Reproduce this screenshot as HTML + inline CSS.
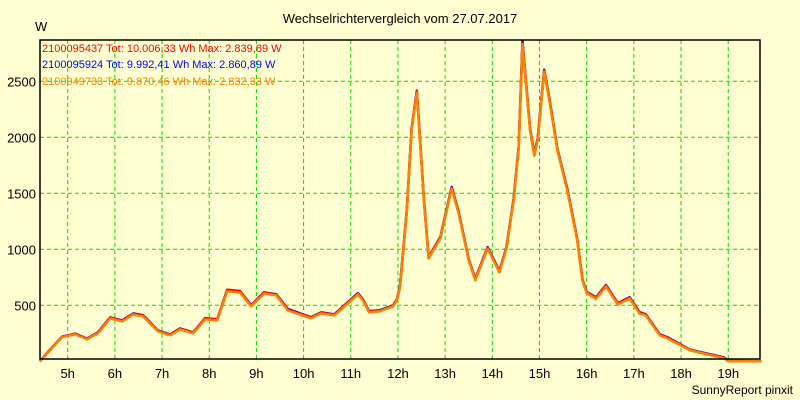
<!DOCTYPE html>
<html><head><meta charset="utf-8"><style>
body{margin:0;background:#ffffd2;}
svg{display:block;font-family:"Liberation Sans",sans-serif;}
</style></head><body>
<svg id="chart" width="800" height="400" xmlns="http://www.w3.org/2000/svg">
<rect width="800" height="400" fill="#ffffd2"/>
<text x="400" y="23" text-anchor="middle" font-size="13" fill="#000">Wechselrichtervergleich vom 27.07.2017</text>
<text x="35" y="31" font-size="13" fill="#000">W</text>
<g id="grid"></g>
<g id="series"></g>
<rect x="40" y="40" width="720" height="319" fill="none" stroke="#000" stroke-width="1.5"/>
<g id="labels"></g>
<g font-size="11">
<text x="42" y="52" fill="#ff0000">2100095437 Tot: 10.006,33 Wh Max: 2.839,89 W</text>
<text x="42" y="68" fill="#0000ff">2100095924 Tot: 9.992,41 Wh Max: 2.860,89 W</text>
<text x="42" y="85" fill="#ff8000">2100049733 Tot: 9.870,46 Wh Max: 2.832,33 W</text>
</g>
<text x="793" y="394" text-anchor="end" font-size="12" fill="#000">SunnyReport pinxit</text>
</svg>
<script>
const hours = [4.41,4.62,4.88,5.16,5.41,5.64,5.9,6.15,6.39,6.6,6.91,7.17,7.38,7.66,7.91,8.17,8.38,8.65,8.89,9.16,9.42,9.67,10.03,10.16,10.37,10.65,11.15,11.26,11.39,11.62,11.9,11.98,12.04,12.08,12.19,12.29,12.4,12.44,12.55,12.65,12.9,13.14,13.28,13.5,13.64,13.9,14.15,14.3,14.45,14.56,14.64,14.7,14.8,14.89,14.96,15.1,15.21,15.38,15.59,15.8,15.91,16.0,16.2,16.41,16.66,16.91,17.12,17.25,17.55,17.72,18.19,18.91,19.0,19.7];
const blueVals = [0,100,220,246,202,258,392,365,428,410,276,240,294,258,384,375,635,625,500,616,598,466,412,393,437,420,608,553,446,456,500,555,662,840,1360,2075,2415,2165,1450,930,1110,1556,1343,912,734,1020,806,1020,1450,1915,2861,2570,2076,1852,1985,2603,2345,1896,1540,1092,734,618,572,680,518,572,438,420,240,213,104,34,4,0];
const redVals = [0,98,218,244,200,255,390,362,425,407,273,237,291,255,383,372,638,628,496,613,595,460,408,390,434,417,604,550,443,452,496,552,658,836,1355,2070,2410,2160,1445,926,1105,1550,1338,908,730,1015,801,1015,1445,1909,2840,2560,2070,1846,1980,2597,2338,1890,1534,1087,730,614,568,676,514,568,434,417,237,210,101,31,2,0];
const orangeVals = [0,95,215,240,196,250,383,356,418,400,268,232,285,250,374,365,624,614,490,605,588,454,402,384,428,410,597,543,437,447,490,545,650,828,1345,2058,2398,2150,1436,918,1096,1540,1328,900,722,1006,793,1006,1434,1898,2832,2550,2058,1836,1968,2586,2326,1880,1524,1078,722,606,560,668,506,560,426,410,231,204,97,27,0,0];
const yTicks = [500,1000,1500,2000,2500];
const xTicks = [5,6,7,8,9,10,11,12,13,14,15,16,17,18,19];

const NS="http://www.w3.org/2000/svg";
function xAt(h){return 67.7+(h-5)*47.18;}
function yAt(v){return Math.max(40,361.3-v*0.112);}
const grid=document.getElementById('grid'), labels=document.getElementById('labels'), series=document.getElementById('series');
yTicks.forEach(t=>{
  const l=document.createElementNS(NS,'line');
  
  
  l.setAttribute('x1',40);l.setAttribute('x2',760);l.setAttribute('y1',yAt(t));l.setAttribute('y2',yAt(t));
  l.setAttribute('stroke','#00dd00');l.setAttribute('stroke-dasharray','4,3');
  grid.appendChild(l);
  const tx=document.createElementNS(NS,'text');
  
  
  tx.setAttribute('x',36);tx.setAttribute('y',yAt(t)+5);tx.setAttribute('text-anchor','end');tx.setAttribute('font-size','13');
  tx.textContent=t;labels.appendChild(tx);
});
xTicks.forEach(t=>{
  const l=document.createElementNS(NS,'line');
  
  
  l.setAttribute('x1',xAt(t));l.setAttribute('x2',xAt(t));l.setAttribute('y1',40);l.setAttribute('y2',359);
  l.setAttribute('stroke','#00dd00');l.setAttribute('stroke-dasharray','4,3');
  grid.appendChild(l);
  const tx=document.createElementNS(NS,'text');
  
  
  tx.setAttribute('x',xAt(t));tx.setAttribute('y',378);tx.setAttribute('text-anchor','middle');tx.setAttribute('font-size','13');
  tx.textContent=t+'h';labels.appendChild(tx);
});
function draw(vals,color,w,name){
  const p=document.createElementNS(NS,'polyline');
  
  
  p.setAttribute('points',vals.map((v,i)=>xAt(hours[i]).toFixed(1)+','+yAt(v).toFixed(1)).join(' '));
  p.setAttribute('fill','none');p.setAttribute('stroke',color);p.setAttribute('stroke-width',w);p.setAttribute('stroke-linejoin','round');
  series.appendChild(p);
}
draw(blueVals,'#0000ff',2.5,'series-2100095924');
draw(redVals,'#ff0000',2.5,'series-2100095437');
draw(orangeVals,'#ff8000',2.5,'series-2100049733');
</script>
</body></html>
